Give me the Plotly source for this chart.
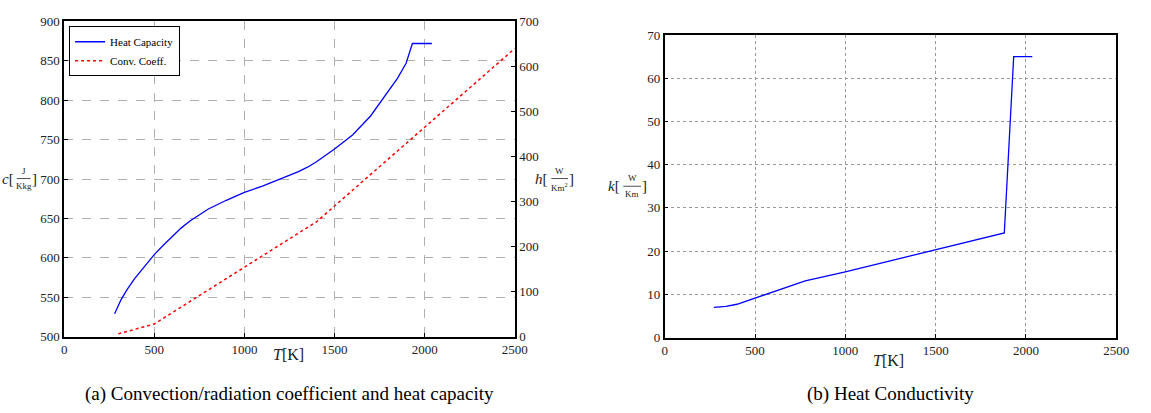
import plotly.graph_objects as go

W, H = 1151, 413

# ---------------- data ----------------
T_c = [280, 316, 350, 391, 450, 500, 550, 600, 650, 700, 750, 800, 900, 1000, 1100,
       1200, 1250, 1300, 1350, 1400, 1500, 1600, 1700, 1800, 1850, 1897, 1932, 2040]
c_vals = [529, 547, 560, 573.5, 590, 604, 616, 627, 638, 647, 655, 662, 673, 683, 691,
          700, 704.5, 709.5, 715, 722, 738, 756, 780, 812, 828, 847, 872, 872]

T_h = [300, 500, 1400, 2500]
h_vals = [6, 28, 255, 640]

T_k = [272, 340, 400, 500, 615, 700, 778, 1000, 1251, 1500, 1880, 1932, 2035]
k_vals = [7.0, 7.2, 7.7, 9.1, 10.7, 12.0, 13.1, 15.2, 17.8, 20.3, 24.2, 65.0, 65.0]

x_ticks = [0, 500, 1000, 1500, 2000, 2500]

FONT = "Liberation Serif"
TXT = "#222222"


def px(x):
    return x / W


def py(y):
    return 1 - y / H


fig = go.Figure()

fig.add_trace(go.Scatter(x=T_c, y=c_vals, mode="lines", name="Heat Capacity",
                         line=dict(color="#0000ff", width=1.3),
                         xaxis="x", yaxis="y"))
fig.add_trace(go.Scatter(x=T_h, y=h_vals, mode="lines", name="Conv. Coeff.",
                         line=dict(color="#ff0000", width=1.5, dash="dot"),
                         xaxis="x", yaxis="y2"))
fig.add_trace(go.Scatter(x=T_k, y=k_vals, mode="lines", name="k", showlegend=False,
                         line=dict(color="#0000ff", width=1.3),
                         xaxis="x3", yaxis="y3"))

TF = dict(family=FONT, size=13, color=TXT)
ax_common = dict(showline=True, linecolor="black", linewidth=1.5, mirror=True,
                 ticks="inside", ticklen=4, tickcolor="black", zeroline=False,
                 tickfont=TF)

L = dict(l=62, r=519, t=15, b=342)
R = dict(l=671, r=1129, t=29, b=343)

fig.update_layout(
    width=W, height=H, margin=dict(l=0, r=0, t=0, b=0),
    paper_bgcolor="white", plot_bgcolor="white",
    font=dict(family=FONT, color=TXT),
    xaxis=dict(domain=[px(L["l"]), px(L["r"])], range=[0, 2500], tickvals=x_ticks,
               anchor="y", showgrid=True, gridcolor="#b0b0b0", griddash="dash",
               gridwidth=1, **ax_common),
    yaxis=dict(domain=[py(L["b"]), py(L["t"])], range=[500, 900], dtick=50,
               anchor="x", showgrid=True, gridcolor="#b0b0b0", griddash="dash",
               gridwidth=1, **ax_common),
    yaxis2=dict(overlaying="y", side="right", range=[0, 700], dtick=100,
                anchor="x", showgrid=False, showline=True, linecolor="black",
                linewidth=1.5, ticks="inside", ticklen=4, tickcolor="black",
                zeroline=False, tickfont=TF),
    xaxis3=dict(domain=[px(R["l"]), px(R["r"])], range=[0, 2500], tickvals=x_ticks,
                anchor="y3", showgrid=True, gridcolor="#999999", griddash="dot",
                gridwidth=1, **ax_common),
    yaxis3=dict(domain=[py(R["b"]), py(R["t"])], range=[0, 70], dtick=10,
                anchor="x3", showgrid=True, gridcolor="#999999", griddash="dot",
                gridwidth=1, **ax_common),
    legend=dict(x=px(67), y=py(20), xanchor="left", yanchor="top",
                bgcolor="white", bordercolor="black", borderwidth=1,
                font=dict(family=FONT, size=11, color="black"),
                tracegroupgap=0, itemwidth=30),
    showlegend=True,
)

annotations = []
shapes = []


def text(x, y, s, size=15, xanchor="center", yanchor="middle", color=TXT):
    annotations.append(dict(x=px(x), y=py(y), xref="paper", yref="paper", text=s,
                            showarrow=False, xanchor=xanchor, yanchor=yanchor,
                            font=dict(family=FONT, size=size, color=color)))


def frac_label(x_var_right, frac_right, y, var, num, den):
    text(x_var_right, y, f"<i>{var}</i>[", size=15, xanchor="right")
    fl = x_var_right + 1
    cx = (fl + frac_right) / 2
    text(cx, y - 1, num, size=9, yanchor="bottom")
    text(cx, y + 1, den, size=9, yanchor="top")
    shapes.append(dict(type="line", xref="paper", yref="paper",
                       x0=px(fl), x1=px(frac_right), y0=py(y), y1=py(y),
                       line=dict(color=TXT, width=0.8)))
    text(frac_right - 1, y, "]", size=15, xanchor="left")


frac_label(13, 28, 178, "c", "J", "Kkg")
frac_label(555, 573, 178, "h", "W", "Km<sup>2</sup>")
frac_label(628, 647, 186, "k", "W", "Km")

text(290, 361, "<i>T</i>[K]", size=16)
text(898, 367, "<i>T</i>[K]", size=16)

text(291, 402, "(a) Convection/radiation coefficient and heat capacity", size=19,
     color="black")
text(900, 402, "(b) Heat Conductivity", size=19, color="black")

fig.update_layout(annotations=annotations, shapes=shapes)

fig.write_html("out.html")
